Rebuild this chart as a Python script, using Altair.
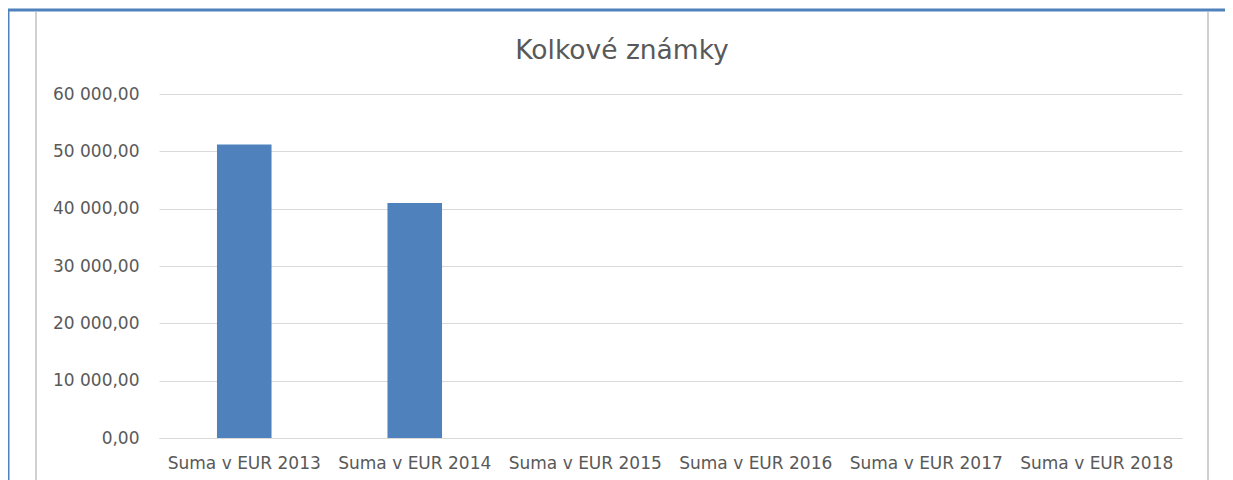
import altair as alt
import pandas as pd

categories = ["Suma v EUR 2013", "Suma v EUR 2014", "Suma v EUR 2015",
              "Suma v EUR 2016", "Suma v EUR 2017", "Suma v EUR 2018"]
values = [51200, 41000, 0, 0, 0, 0]
y_ticks = [0, 10000, 20000, 30000, 40000, 50000, 60000]
title_text = "Kolkové známky"

df = pd.DataFrame({"cat": categories, "val": values})

FONT = "DejaVu Sans"
GRAY = "#595959"
BLUE = "#4f81bd"

base = alt.Chart(df)

bars = base.mark_bar(color=BLUE).encode(
    x=alt.X("cat:N", sort=categories, title=None,
            scale=alt.Scale(paddingInner=0.68, paddingOuter=0.34),
            axis=alt.Axis(labelAngle=0, labelFont=FONT, labelFontSize=17,
                          labelColor=GRAY, labelPadding=17, ticks=False,
                          domainColor="#d9d9d9", domainWidth=1, grid=False)),
    y=alt.Y("val:Q", title=None,
            scale=alt.Scale(domain=[0, 60000], nice=False),
            axis=alt.Axis(values=y_ticks, labelFont=FONT, labelFontSize=17,
                          labelColor=GRAY, labelPadding=20, ticks=False,
                          domain=False, gridColor="#d9d9d9", grid=True,
                          labelExpr="replace(replace(format(datum.value, ',.2f'), ',', ' '), '.', ',')")),
)

title = alt.Chart(pd.DataFrame({"t": [title_text]})).mark_text(
    font=FONT, fontSize=26.5, color=GRAY, baseline="alphabetic", align="center"
).encode(x=alt.value(463), y=alt.value(-35), text="t:N")

frame = pd.DataFrame({"k": [0]})
blue_top = alt.Chart(frame).mark_rule(color=BLUE, strokeWidth=3).encode(
    x=alt.value(-152), x2=alt.value(1066), y=alt.value(-84))
blue_left = alt.Chart(frame).mark_rule(color=BLUE, strokeWidth=3).encode(
    x=alt.value(-151), y=alt.value(-85), y2=alt.value(386))
gray_left = alt.Chart(frame).mark_rule(color="#d0d0d0", strokeWidth=2).encode(
    x=alt.value(-123), y=alt.value(-82), y2=alt.value(386))
gray_right = alt.Chart(frame).mark_rule(color="#d0d0d0", strokeWidth=2).encode(
    x=alt.value(1049), y=alt.value(-82), y2=alt.value(386))

chart = alt.layer(blue_top, blue_left, gray_left, gray_right, bars, title).properties(
    width=1023, height=344,
    autosize=alt.AutoSizeParams(type="none"),
    padding={"left": 151, "top": 86, "right": 43, "bottom": 42},
).configure(background="white").configure_view(stroke=None)

chart.save("out.html", embed_options={"renderer": "svg", "actions": False})
